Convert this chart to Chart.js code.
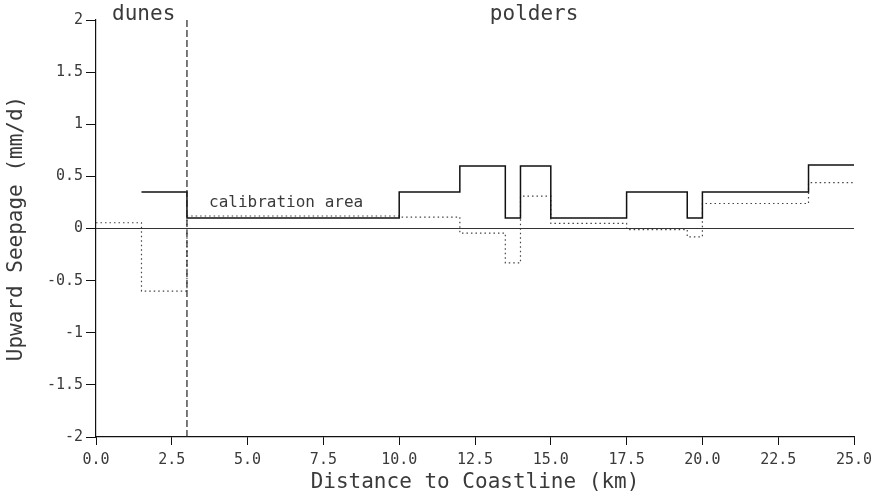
<!doctype html>
<html lang="en">
  <head>
    <meta charset="utf-8">
    <title>Upward Seepage</title>
    <style>
      * {
        margin: 0;
        padding: 0;
      }
      body {
        background: white;
      }
      .chartBox {
        width: 883px;
        height: 495px;
      }
    </style>
  </head>
  <body>
    <div class="chartBox">
      <canvas id="seepChart"></canvas>
    </div>

    <script src="https://cdn.jsdelivr.net/npm/chart.js"></script>
    <script>
    // setup
    const xTicks = [0, 2.5, 5, 7.5, 10, 12.5, 15, 17.5, 20, 22.5, 25];
    const yTicks = [-2, -1.5, -1, -0.5, 0, 0.5, 1, 1.5, 2];

    // calibrated seepage (solid), step starts in km
    const calX = [1.5, 3, 10, 12, 13.5, 14, 15, 17.5, 19.5, 20, 23.5, 25];
    const calY = [0.35, 0.1, 0.35, 0.6, 0.1, 0.6, 0.1, 0.35, 0.1, 0.35, 0.61, 0.61];

    // second estimate (dotted)
    const estX = [0, 1.5, 3, 10, 12, 13.5, 14, 15, 17.5, 19.5, 20, 23.5, 25];
    const estY = [0.055, -0.6, 0.12, 0.11, -0.045, -0.33, 0.31, 0.05, -0.01, -0.08, 0.24, 0.44, 0.44];

    const dunesBorder = 3;

    const notes = [
      { text: 'dunes', x: 0.53, y: 2.0, size: 21, align: 'left' },
      { text: 'polders', x: 14.45, y: 2.0, size: 21, align: 'center' },
      { text: 'calibration area', x: 6.27, y: 0.243, size: 16, align: 'center', base: 'middle' }
    ];

    const FONT = '"DejaVu Sans Mono", monospace';
    const INK = '#3a3a3a';

    function pts(xs, ys) {
      return xs.map((x, i) => ({ x: x, y: ys[i] }));
    }

    const notePlugin = {
      id: 'notes',
      afterDatasetsDraw(chart) {
        const ctx = chart.ctx;
        const sx = chart.scales.x, sy = chart.scales.y;
        ctx.save();
        ctx.fillStyle = INK;
        notes.forEach(n => {
          ctx.font = n.size + 'px ' + FONT;
          ctx.textAlign = n.align;
          ctx.textBaseline = n.base || 'alphabetic';
          ctx.fillText(n.text, sx.getPixelForValue(n.x), sy.getPixelForValue(n.y));
        });
        ctx.restore();
      }
    };

    const data = {
      datasets: [
        {
          label: 'zero',
          data: pts([0, 25], [0, 0]),
          borderColor: '#333',
          borderWidth: 1.2
        },
        {
          label: 'dunes border',
          data: pts([dunesBorder, dunesBorder], [-2, 2]),
          borderColor: '#222',
          borderWidth: 1.2,
          borderDash: [7, 3]
        },
        {
          label: 'calibrated',
          data: pts(calX, calY),
          stepped: true,
          borderColor: '#111',
          borderWidth: 1.5
        },
        {
          label: 'estimate',
          data: pts(estX, estY),
          stepped: true,
          borderColor: '#444',
          borderWidth: 1.2,
          borderDash: [1.5, 3]
        }
      ]
    };

    // config
    const config = {
      type: 'line',
      data,
      plugins: [notePlugin],
      options: {
        responsive: true,
        maintainAspectRatio: false,
        animation: false,
        layout: { padding: { top: 20, right: 29, left: 0, bottom: 0 } },
        elements: { point: { radius: 0 }, line: { tension: 0 } },
        plugins: { legend: { display: false }, tooltip: { enabled: false } },
        scales: {
          x: {
            type: 'linear',
            min: 0,
            max: 25,
            afterFit: s => { s.height = 58; },
            afterBuildTicks: s => { s.ticks = xTicks.map(v => ({ value: v })); },
            grid: { drawOnChartArea: false, drawTicks: true, tickLength: 8, color: '#111' },
            border: { display: true, color: '#111', width: 1.2 },
            ticks: {
              padding: 6,
              color: INK,
              font: { family: FONT, size: 15 },
              callback: v => v.toFixed(1)
            },
            title: {
              display: true,
              text: 'Distance to Coastline (km)',
              color: INK,
              font: { family: FONT, size: 21 },
              padding: { top: 0, bottom: 0 }
            }
          },
          y: {
            min: -2,
            max: 2,
            afterFit: s => { s.width = 96; },
            afterBuildTicks: s => { s.ticks = yTicks.map(v => ({ value: v })); },
            grid: { drawOnChartArea: false, drawTicks: true, tickLength: 10, color: '#111' },
            border: { display: true, color: '#111', width: 1.2 },
            ticks: {
              padding: 3,
              color: INK,
              font: { family: FONT, size: 15 },
              callback: v => String(v)
            },
            title: {
              display: true,
              text: 'Upward Seepage (mm/d)',
              color: INK,
              font: { family: FONT, size: 21 },
              padding: { top: 4, bottom: 0 }
            }
          }
        }
      }
    };

    // render init block
    const seepChart = new Chart(
      document.getElementById('seepChart'),
      config
    );
    </script>
  </body>
</html>
